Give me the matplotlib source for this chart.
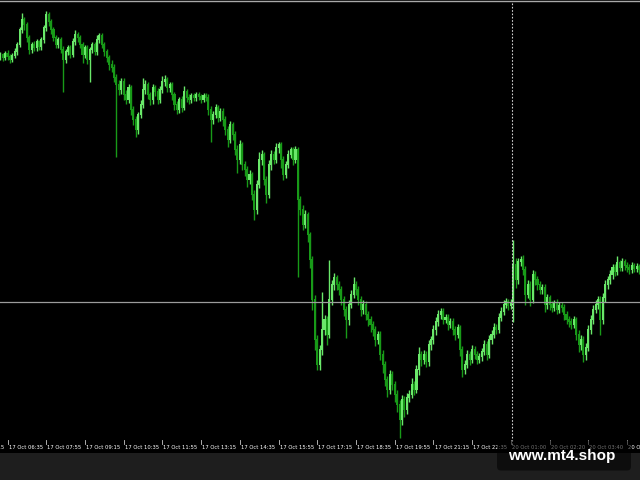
import matplotlib
matplotlib.use("Agg")
import matplotlib.pyplot as plt
from matplotlib.patches import Rectangle, FancyBboxPatch
from matplotlib.lines import Line2D

# Price values are expressed on the chart's vertical pixel scale (larger = lower price)
closes = [55, 58, 54, 57, 60, 56, 52, 45, 30, 20, 25, 38, 50, 45, 48, 42, 47, 40, 28, 15,
          22, 30, 38, 45, 40, 50, 60, 52, 48, 55, 42, 35, 38, 45, 55, 48, 60, 50, 45, 52,
          40, 36, 45, 52, 58, 65, 68, 78, 85, 90, 82, 95, 100, 88, 110, 120, 130, 115, 105, 90,
          85, 95, 100, 88, 92, 100, 90, 82, 80, 88, 85, 95, 105, 110, 100, 108, 92, 98, 100, 96,
          98, 95, 97, 100, 96, 98, 110, 120, 115, 108, 118, 112, 120, 130, 140, 125, 135, 150, 160, 145,
          165, 170, 180, 175, 195, 210, 185, 160, 155, 180, 195, 165, 155, 160, 148, 145, 160, 175, 165, 155,
          150, 160, 150, 200, 210, 225, 215, 235, 260, 300, 340, 365, 350, 330, 320, 335, 300, 285, 278, 285,
          290, 300, 310, 320, 305, 295, 285, 290, 300, 310, 305, 315, 320, 325, 330, 340, 335, 355, 365, 380,
          390, 375, 385, 395, 405, 420, 400, 410, 398, 395, 385, 390, 370, 355, 360, 355, 362, 345, 340, 330,
          322, 315, 312, 320, 318, 325, 322, 330, 335, 328, 350, 370, 365, 355, 360, 350, 355, 360, 357, 352,
          345, 355, 340, 335, 328, 330, 318, 312, 305, 302, 306, 303, 265, 280, 262, 260, 270, 295, 285, 300,
          275, 280, 285, 290, 288, 305, 298, 305, 308, 303, 310, 306, 308, 315, 320, 322, 325, 320, 335, 345,
          340, 355, 348, 330, 320, 310, 305, 300, 320, 298, 285, 280, 275, 268, 272, 263, 268, 262, 266, 268,
          270, 266, 269, 267, 270]

opens = [57, 55, 58, 54, 57, 60, 56, 52, 45, 30, 20, 25, 38, 50, 45, 48, 42, 47, 40, 28,
         15, 22, 30, 38, 45, 40, 50, 60, 52, 48, 55, 42, 35, 38, 45, 55, 48, 60, 50, 45,
         52, 40, 36, 45, 52, 58, 65, 68, 78, 85, 90, 82, 95, 100, 88, 110, 120, 130, 115, 105,
         90, 85, 95, 100, 88, 92, 100, 90, 82, 80, 88, 85, 95, 105, 110, 100, 108, 92, 98, 100,
         96, 98, 95, 97, 100, 96, 98, 110, 120, 115, 108, 118, 112, 120, 130, 140, 125, 135, 150, 160,
         145, 165, 170, 180, 175, 195, 210, 185, 160, 155, 180, 195, 165, 155, 160, 148, 145, 160, 175, 165,
         155, 150, 160, 150, 200, 210, 225, 215, 235, 260, 300, 340, 365, 350, 330, 320, 335, 300, 285, 278,
         285, 290, 300, 310, 320, 305, 295, 285, 290, 300, 310, 305, 315, 320, 325, 330, 340, 335, 355, 365,
         380, 390, 375, 385, 395, 405, 420, 400, 410, 398, 395, 385, 390, 370, 355, 360, 355, 362, 345, 340,
         330, 322, 315, 312, 320, 318, 325, 322, 330, 335, 328, 350, 370, 365, 355, 360, 350, 355, 360, 357,
         352, 345, 355, 340, 335, 328, 330, 318, 312, 305, 302, 306, 303, 265, 280, 262, 260, 270, 295, 285,
         300, 275, 280, 285, 290, 288, 305, 298, 305, 308, 303, 310, 306, 308, 315, 320, 322, 325, 320, 335,
         345, 340, 355, 348, 330, 320, 310, 305, 300, 320, 298, 285, 280, 275, 268, 272, 263, 268, 262, 266,
         268, 270, 266, 269, 267]

highs = [52, 53, 51, 50, 54, 53, 48, 42, 27, 13, 17, 22, 35, 42, 41, 39, 40, 37, 25, 11,
         12, 19, 27, 35, 37, 37, 46, 49, 45, 45, 38, 30, 32, 35, 42, 45, 45, 47, 42, 42,
         35, 33, 33, 42, 49, 55, 60, 64, 74, 80, 78, 78, 90, 84, 85, 106, 116, 112, 100, 78,
         80, 82, 92, 84, 85, 88, 86, 76, 75, 77, 82, 82, 92, 101, 97, 96, 86, 89, 94, 93,
         93, 92, 92, 94, 93, 93, 94, 106, 111, 104, 105, 108, 108, 116, 126, 121, 122, 131, 145, 140,
         142, 161, 166, 170, 172, 190, 180, 152, 150, 152, 176, 160, 150, 151, 143, 142, 142, 156, 161, 150,
         147, 147, 146, 147, 196, 205, 210, 212, 232, 256, 295, 335, 345, 292, 315, 316, 260, 280, 273, 275,
         281, 286, 296, 306, 300, 290, 277, 281, 286, 296, 300, 301, 311, 316, 321, 326, 331, 331, 350, 361,
         376, 370, 371, 381, 390, 400, 395, 396, 393, 390, 378, 381, 365, 347, 351, 350, 351, 340, 336, 325,
         317, 310, 308, 308, 314, 314, 318, 318, 326, 324, 325, 346, 360, 350, 351, 345, 346, 351, 353, 348,
         340, 341, 335, 330, 323, 324, 313, 307, 300, 298, 299, 299, 240, 258, 258, 256, 255, 266, 280, 281,
         270, 271, 276, 281, 284, 284, 294, 295, 301, 300, 299, 302, 302, 304, 311, 316, 318, 316, 317, 330,
         335, 336, 343, 325, 315, 305, 300, 296, 296, 293, 280, 276, 270, 264, 264, 256, 260, 258, 259, 262,
         264, 262, 263, 263, 264]

lows = [60, 61, 60, 60, 63, 62, 58, 55, 47, 33, 30, 42, 54, 53, 51, 51, 50, 50, 43, 31,
        26, 34, 41, 48, 48, 53, 92, 63, 55, 58, 57, 45, 42, 48, 63, 58, 64, 82, 53, 55,
        55, 43, 48, 56, 62, 70, 72, 82, 157, 95, 94, 100, 104, 103, 115, 125, 137, 134, 118, 108,
        94, 99, 105, 104, 96, 104, 103, 93, 86, 92, 92, 100, 110, 114, 113, 112, 110, 102, 104, 103,
        101, 101, 100, 103, 102, 101, 115, 142, 124, 118, 122, 121, 126, 135, 147, 143, 140, 155, 173, 164,
        170, 176, 187, 184, 200, 220, 214, 188, 165, 185, 203, 198, 170, 164, 163, 153, 168, 180, 178, 168,
        158, 165, 163, 277, 215, 230, 228, 242, 268, 310, 350, 370, 370, 355, 335, 345, 338, 305, 290, 290,
        295, 305, 316, 338, 325, 308, 298, 295, 305, 316, 314, 320, 326, 332, 336, 346, 344, 360, 373, 386,
        397, 394, 390, 402, 412, 438, 425, 417, 414, 402, 398, 395, 393, 375, 366, 364, 367, 366, 350, 344,
        335, 326, 319, 324, 323, 330, 328, 335, 340, 338, 356, 377, 374, 368, 365, 363, 359, 364, 363, 361,
        355, 360, 358, 344, 338, 334, 333, 321, 315, 308, 310, 309, 322, 288, 284, 266, 275, 305, 298, 306,
        303, 285, 290, 294, 294, 312, 309, 310, 312, 311, 314, 313, 312, 320, 324, 327, 329, 328, 340, 352,
        350, 362, 360, 351, 334, 324, 313, 309, 335, 324, 302, 289, 284, 279, 276, 275, 271, 271, 270, 272,
        274, 273, 272, 272, 274]

tick_bars = [-13, 3, 19, 35, 51, 67, 83, 99, 115, 131, 147, 163, 179, 195, 211, 227, 243, 259]
tick_labels = ["17 Oct 05:15", "17 Oct 06:35", "17 Oct 07:55", "17 Oct 09:15", "17 Oct 10:35",
               "17 Oct 11:55", "17 Oct 13:15", "17 Oct 14:35", "17 Oct 15:55", "17 Oct 17:15",
               "17 Oct 18:35", "17 Oct 19:55", "17 Oct 21:15", "17 Oct 22:35", "20 Oct 01:00",
               "20 Oct 02:20", "20 Oct 03:40", "20 Oct 05:00"]

hline_level = 302
cursor_bar = 211.5

BULL = "#6ae86a"
BEAR = "#189a18"

fig = plt.figure(figsize=(6.4, 4.8), dpi=100, facecolor="#1e1e1e")
fig.add_artist(Rectangle((0, 27 / 480), 1, 453 / 480, transform=fig.transFigure,
                         facecolor="black", edgecolor="none", zorder=0))
fig.add_artist(Line2D([0, 1], [479.2 / 480] * 2, transform=fig.transFigure,
                      color="#a8a8a8", lw=1.0, zorder=1))

ax = fig.add_axes([0, 40 / 480, 1, 437 / 480])
ax.set_axis_off()
xmin = -0.1
ax.set_xlim(xmin, xmin + 640 / 2.42)
ax.set_ylim(440, 3)

n = len(closes)
idx = list(range(n))
colors = [BULL if c <= o else BEAR for o, c in zip(opens, closes)]
ax.vlines(idx, highs, lows, colors=colors, lw=1.0, zorder=2)
bottoms = [min(o, c) - 0.5 for o, c in zip(opens, closes)]
heights = [max(abs(c - o), 1.0) + 1.0 for o, c in zip(opens, closes)]
ax.bar(idx, heights, bottom=bottoms, width=0.85, color=colors, linewidth=0, zorder=3)

ax.axhline(hline_level, color="#9c9c9c", lw=0.9, zorder=4)
ax.vlines(cursor_bar, 3, 446, colors="#d0d0d0", linestyles=(0, (1.5, 1.5)), lw=0.8,
          zorder=4, clip_on=False)

for b, lab in zip(tick_bars, tick_labels):
    ax.plot([b, b], [440.5, 444], color="#c8c8c8", lw=0.6, clip_on=False, zorder=4)
    ax.text(b + 0.45, 447.5, lab, fontsize=3.8, color="white", ha="left", va="center",
            family="DejaVu Sans", clip_on=False, zorder=4)

fig.add_artist(FancyBboxPatch((4.97, 0.095), 1.34, 0.30,
                              boxstyle="round,pad=0,rounding_size=0.04",
                              transform=fig.dpi_scale_trans, facecolor="black",
                              edgecolor="none", alpha=0.55, zorder=5))
fig.text(562 / 640, (480 - 456) / 480, "www.mt4.shop", fontsize=11, fontweight="bold",
         color="white", family="Liberation Sans", ha="center", va="center", zorder=6)

fig.savefig("out.png", dpi=100, facecolor=fig.get_facecolor())
